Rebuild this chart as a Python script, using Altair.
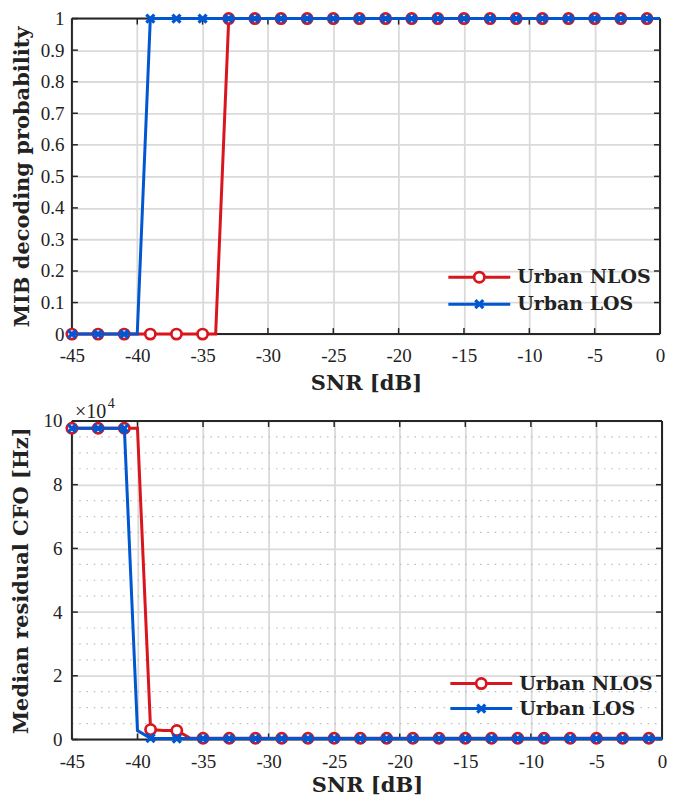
import altair as alt
import pandas as pd

# ---------------- data ----------------
snr_db = [-45, -44, -43, -42, -41, -40, -39, -38, -37, -36,
          -35, -34, -33, -32, -31, -30, -29, -28, -27, -26,
          -25, -24, -23, -22, -21, -20, -19, -18, -17, -16,
          -15, -14, -13, -12, -11, -10, -9, -8, -7, -6,
          -5, -4, -3, -2, -1, 0]

mib_nlos = [0, 0, 0, 0, 0, 0, 0, 0, 0, 0,
            0, 0, 1, 1, 1, 1, 1, 1, 1, 1,
            1, 1, 1, 1, 1, 1, 1, 1, 1, 1,
            1, 1, 1, 1, 1, 1, 1, 1, 1, 1,
            1, 1, 1, 1, 1, 1]

mib_los = [0, 0, 0, 0, 0, 0, 1, 1, 1, 1,
           1, 1, 1, 1, 1, 1, 1, 1, 1, 1,
           1, 1, 1, 1, 1, 1, 1, 1, 1, 1,
           1, 1, 1, 1, 1, 1, 1, 1, 1, 1,
           1, 1, 1, 1, 1, 1]

cfo_nlos_hz = [97700, 97700, 97700, 97700, 97700, 97700, 3100, 2800, 2800, 450,
               400, 400, 400, 400, 400, 400, 400, 400, 400, 400,
               400, 400, 400, 400, 400, 400, 400, 400, 400, 400,
               400, 400, 400, 400, 400, 400, 400, 400, 400, 400,
               400, 400, 400, 400, 400, 400]

cfo_los_hz = [97700, 97700, 97700, 97700, 97700, 2800, 400, 300, 300, 300,
              300, 300, 300, 300, 300, 300, 300, 300, 300, 300,
              300, 300, 300, 300, 300, 300, 300, 300, 300, 300,
              300, 300, 300, 300, 300, 300, 300, 300, 300, 300,
              300, 300, 300, 300, 300, 300]

series_names = ["Urban NLOS", "Urban LOS"]
series_colors = ["#D9161E", "#0057D1"]

x_tick_values = [-45, -40, -35, -30, -25, -20, -15, -10, -5, 0]
mib_tick_values = [0, 0.1, 0.2, 0.3, 0.4, 0.5, 0.6, 0.7, 0.8, 0.9, 1]
cfo_tick_values = [0, 20000, 40000, 60000, 80000, 100000]
cfo_minor_values = [5000, 10000, 15000, 25000, 30000, 35000, 45000, 50000,
                    55000, 65000, 70000, 75000, 85000, 90000, 95000]
multiplier_base = ["×10"]
multiplier_exp = ["4"]

# ---------------- styling ----------------
LABEL_FONT = "Liberation Serif"
TITLE_FONT = "DejaVu Serif"
TEXT_COLOR = "#222222"
AXIS_COLOR = "#262626"
GRID_COLOR = "#DADADA"
X_PATH = "M-1,-1L1,1M1,-1L-1,1"
LINE_W = 3


def long_frame(values_by_series):
    rows = []
    for name, vals in zip(series_names, values_by_series):
        for s, v in zip(snr_db, vals):
            rows.append({"snr": s, "value": v, "series": name, "marked": s % 2 != 0})
    return pd.DataFrame(rows)


def marker_mark(chart, idx):
    if idx == 0:
        return chart.mark_point(shape="circle", filled=True, fill="white",
                                stroke=series_colors[0], strokeWidth=2.7,
                                size=105, opacity=1)
    return chart.mark_point(shape=X_PATH, filled=False, stroke=series_colors[1],
                            strokeWidth=3.2, size=64, opacity=1)


def panel(df, W, H, y_domain, y_ticks, y_label_expr, y_title,
          y_label_pad, y_title_pad, x_label_pad, x_title_pad,
          legend_y, minor=None, multiplier=False):
    xs = alt.Scale(domain=[-45, 0], nice=False, zero=False)
    ys = alt.Scale(domain=y_domain, nice=False, zero=False)

    x_axis = alt.Axis(values=x_tick_values, title="SNR [dB]", grid=True,
                      gridColor=GRID_COLOR, gridWidth=1.8, domain=False,
                      ticks=False, labelPadding=x_label_pad,
                      titlePadding=x_title_pad, labelFont=LABEL_FONT,
                      labelFontSize=19, labelColor=TEXT_COLOR, labelFlush=False,
                      labelOverlap=False,
                      labelExpr="datum.value < 0 ? '-' + abs(datum.value) : '' + datum.value",
                      titleFont=TITLE_FONT, titleFontSize=21, titleFontWeight="bold",
                      titleColor=TEXT_COLOR)
    y_axis = alt.Axis(values=y_ticks, title=y_title, grid=True,
                      gridColor=GRID_COLOR, gridWidth=1.8, domain=False,
                      ticks=False, labelPadding=y_label_pad,
                      titlePadding=y_title_pad, labelFont=LABEL_FONT,
                      labelFontSize=19, labelColor=TEXT_COLOR, labelFlush=False,
                      labelOverlap=False, labelExpr=y_label_expr,
                      titleFont=TITLE_FONT, titleFontSize=21, titleFontWeight="bold",
                      titleColor=TEXT_COLOR)

    def X(field):
        return alt.X(field, scale=xs, axis=x_axis)

    def Y(field):
        return alt.Y(field, scale=ys, axis=y_axis)

    layers = []

    if minor is not None:
        minor_df = pd.DataFrame({"t": minor})
        layers.append(
            alt.Chart(minor_df).mark_rule(color="#BDBDBD", strokeWidth=1.2,
                                          strokeDash=[1.5, 5.8])
            .encode(y=Y("t:Q"), x=alt.value(0), x2=alt.value(W))
        )

    edge_df = pd.DataFrame({"e": [0]})
    for enc in [dict(x=alt.value(0), x2=alt.value(W), y=alt.value(0)),
                dict(x=alt.value(0), x2=alt.value(W), y=alt.value(H)),
                dict(x=alt.value(0), y=alt.value(0), y2=alt.value(H)),
                dict(x=alt.value(W), y=alt.value(0), y2=alt.value(H))]:
        layers.append(alt.Chart(edge_df).mark_rule(color=AXIS_COLOR, strokeWidth=2).encode(**enc))

    xt = pd.DataFrame({"t": x_tick_values})
    yt = pd.DataFrame({"t": y_ticks})
    for y1, y2 in [(H, H - 6), (0, 6)]:
        layers.append(alt.Chart(xt).mark_rule(color=AXIS_COLOR, strokeWidth=1.5)
                      .encode(x=X("t:Q"), y=alt.value(y1), y2=alt.value(y2)))
    for x1, x2 in [(0, 6), (W - 6, W)]:
        layers.append(alt.Chart(yt).mark_rule(color=AXIS_COLOR, strokeWidth=1.5)
                      .encode(y=Y("t:Q"), x=alt.value(x1), x2=alt.value(x2)))

    for i, (name, color) in enumerate(zip(series_names, series_colors)):
        base = alt.Chart(df).transform_filter(alt.datum.series == name)
        layers.append(
            base.mark_line(color=color, strokeWidth=LINE_W)
            .encode(x=X("snr:Q"), y=Y("value:Q"))
        )
        pts = base.transform_filter(alt.datum.marked)
        layers.append(
            marker_mark(pts, i).encode(x=X("snr:Q"), y=Y("value:Q"))
        )

    # legend (drawn inside the plot, lower right)
    for i, (name, color) in enumerate(zip(series_names, series_colors)):
        ldf = pd.DataFrame({"series": [name]})
        yrow = legend_y[i]
        layers.append(alt.Chart(ldf).mark_rule(color=color, strokeWidth=LINE_W)
                      .encode(x=alt.value(W - 212), x2=alt.value(W - 150), y=alt.value(yrow)))
        layers.append(marker_mark(alt.Chart(ldf), i)
                      .encode(x=alt.value(W - 181), y=alt.value(yrow)))
        layers.append(alt.Chart(ldf).mark_text(align="left", baseline="middle",
                                               font=TITLE_FONT, fontSize=19,
                                               fontWeight="bold", color=TEXT_COLOR)
                      .encode(x=alt.value(W - 143), y=alt.value(yrow), text="series:N"))

    if multiplier:
        layers.append(alt.Chart(pd.DataFrame({"m": multiplier_base}))
                      .mark_text(align="left", baseline="alphabetic", font=LABEL_FONT,
                                 fontSize=20, color=TEXT_COLOR)
                      .encode(x=alt.value(3), y=alt.value(-3), text="m:N"))
        layers.append(alt.Chart(pd.DataFrame({"m": multiplier_exp}))
                      .mark_text(align="left", baseline="alphabetic", font=LABEL_FONT,
                                 fontSize=14, color=TEXT_COLOR)
                      .encode(x=alt.value(36), y=alt.value(-13), text="m:N"))

    return alt.layer(*layers).properties(width=W, height=H)


H1 = 316
H2 = 319
top = panel(long_frame([mib_nlos, mib_los]), W=589, H=H1, y_domain=[0, 1],
            y_ticks=mib_tick_values, y_label_expr="'' + datum.value",
            y_title="MIB decoding probability", y_label_pad=8, y_title_pad=8,
            x_label_pad=12, x_title_pad=7, legend_y=[H1 - 57, H1 - 30])

bottom = panel(long_frame([cfo_nlos_hz, cfo_los_hz]), W=591, H=H2,
               y_domain=[0, 100000], y_ticks=cfo_tick_values,
               y_label_expr="'' + round(datum.value / 10000)",
               y_title="Median residual CFO [Hz]", y_label_pad=10, y_title_pad=11,
               x_label_pad=13, x_title_pad=3, legend_y=[H2 - 56, H2 - 31],
               minor=cfo_minor_values, multiplier=True)

chart = alt.vconcat(top, bottom, spacing=87, bounds="flush").properties(
    padding={"left": 2, "top": -2, "right": -1, "bottom": 2}
).configure_view(stroke="transparent")

chart.save("out.html", embed_options={"renderer": "svg", "actions": False})
